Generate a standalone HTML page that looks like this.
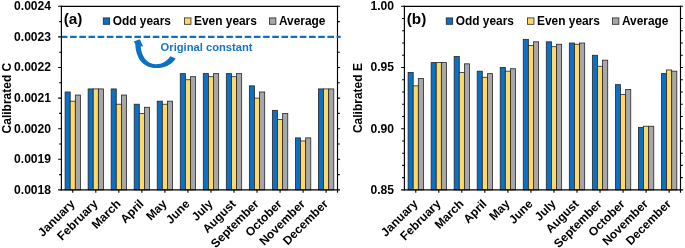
<!DOCTYPE html>
<html><head><meta charset="utf-8"><style>
html,body{margin:0;padding:0;background:#fff;}
svg{display:block;will-change:transform;}
text{font-family:"Liberation Sans",sans-serif;font-weight:bold;font-size:11.7px;fill:#000;}
</style></head><body>
<svg width="685" height="248" viewBox="0 0 685 248">
<rect width="685" height="248" fill="#fff"/>
<rect x="65.09" y="91.98" width="5.12" height="97.92" fill="#0c70c5" stroke="#262626" stroke-width="0.8"/>
<rect x="70.21" y="101.16" width="5.12" height="88.74" fill="#ffd966" stroke="#262626" stroke-width="0.8"/>
<rect x="75.33" y="95.04" width="5.12" height="94.86" fill="#a7a6a8" stroke="#262626" stroke-width="0.8"/>
<rect x="88.12" y="88.92" width="5.12" height="100.98" fill="#0c70c5" stroke="#262626" stroke-width="0.8"/>
<rect x="93.24" y="88.92" width="5.12" height="100.98" fill="#ffd966" stroke="#262626" stroke-width="0.8"/>
<rect x="98.36" y="88.92" width="5.12" height="100.98" fill="#a7a6a8" stroke="#262626" stroke-width="0.8"/>
<rect x="111.16" y="88.92" width="5.12" height="100.98" fill="#0c70c5" stroke="#262626" stroke-width="0.8"/>
<rect x="116.27" y="104.22" width="5.12" height="85.68" fill="#ffd966" stroke="#262626" stroke-width="0.8"/>
<rect x="121.39" y="95.04" width="5.12" height="94.86" fill="#a7a6a8" stroke="#262626" stroke-width="0.8"/>
<rect x="134.19" y="104.22" width="5.12" height="85.68" fill="#0c70c5" stroke="#262626" stroke-width="0.8"/>
<rect x="139.31" y="113.40" width="5.12" height="76.50" fill="#ffd966" stroke="#262626" stroke-width="0.8"/>
<rect x="144.43" y="107.28" width="5.12" height="82.62" fill="#a7a6a8" stroke="#262626" stroke-width="0.8"/>
<rect x="157.22" y="101.16" width="5.12" height="88.74" fill="#0c70c5" stroke="#262626" stroke-width="0.8"/>
<rect x="162.34" y="104.22" width="5.12" height="85.68" fill="#ffd966" stroke="#262626" stroke-width="0.8"/>
<rect x="167.46" y="101.16" width="5.12" height="88.74" fill="#a7a6a8" stroke="#262626" stroke-width="0.8"/>
<rect x="180.26" y="73.62" width="5.12" height="116.28" fill="#0c70c5" stroke="#262626" stroke-width="0.8"/>
<rect x="185.37" y="79.74" width="5.12" height="110.16" fill="#ffd966" stroke="#262626" stroke-width="0.8"/>
<rect x="190.49" y="76.68" width="5.12" height="113.22" fill="#a7a6a8" stroke="#262626" stroke-width="0.8"/>
<rect x="203.29" y="73.62" width="5.12" height="116.28" fill="#0c70c5" stroke="#262626" stroke-width="0.8"/>
<rect x="208.41" y="76.68" width="5.12" height="113.22" fill="#ffd966" stroke="#262626" stroke-width="0.8"/>
<rect x="213.53" y="73.62" width="5.12" height="116.28" fill="#a7a6a8" stroke="#262626" stroke-width="0.8"/>
<rect x="226.32" y="73.62" width="5.12" height="116.28" fill="#0c70c5" stroke="#262626" stroke-width="0.8"/>
<rect x="231.44" y="76.68" width="5.12" height="113.22" fill="#ffd966" stroke="#262626" stroke-width="0.8"/>
<rect x="236.56" y="73.62" width="5.12" height="116.28" fill="#a7a6a8" stroke="#262626" stroke-width="0.8"/>
<rect x="249.36" y="85.86" width="5.12" height="104.04" fill="#0c70c5" stroke="#262626" stroke-width="0.8"/>
<rect x="254.47" y="98.10" width="5.12" height="91.80" fill="#ffd966" stroke="#262626" stroke-width="0.8"/>
<rect x="259.59" y="91.98" width="5.12" height="97.92" fill="#a7a6a8" stroke="#262626" stroke-width="0.8"/>
<rect x="272.39" y="110.34" width="5.12" height="79.56" fill="#0c70c5" stroke="#262626" stroke-width="0.8"/>
<rect x="277.51" y="119.52" width="5.12" height="70.38" fill="#ffd966" stroke="#262626" stroke-width="0.8"/>
<rect x="282.63" y="113.40" width="5.12" height="76.50" fill="#a7a6a8" stroke="#262626" stroke-width="0.8"/>
<rect x="295.42" y="137.88" width="5.12" height="52.02" fill="#0c70c5" stroke="#262626" stroke-width="0.8"/>
<rect x="300.54" y="140.94" width="5.12" height="48.96" fill="#ffd966" stroke="#262626" stroke-width="0.8"/>
<rect x="305.66" y="137.88" width="5.12" height="52.02" fill="#a7a6a8" stroke="#262626" stroke-width="0.8"/>
<rect x="318.46" y="88.92" width="5.12" height="100.98" fill="#0c70c5" stroke="#262626" stroke-width="0.8"/>
<rect x="323.57" y="88.92" width="5.12" height="100.98" fill="#ffd966" stroke="#262626" stroke-width="0.8"/>
<rect x="328.69" y="88.92" width="5.12" height="100.98" fill="#a7a6a8" stroke="#262626" stroke-width="0.8"/>
<path d="M60.85 6.30H338.05M60.85 189.90H338.05" fill="none" stroke="#000" stroke-width="1.15"/>
<path d="M61.40 5.80V190.40M337.50 5.80V190.40" fill="none" stroke="#000" stroke-width="1.15"/>
<path d="M58.10 189.90H61.40M337.50 189.90H340.10" stroke="#000" stroke-width="1.1"/>
<text x="51.05" y="193.85" text-anchor="end" style="font-size:12.1px">0.0018</text>
<path d="M59.10 174.60H61.40M337.50 174.60H339.80" stroke="#000" stroke-width="1.1"/>
<path d="M58.10 159.30H61.40M337.50 159.30H340.10" stroke="#000" stroke-width="1.1"/>
<text x="51.05" y="163.25" text-anchor="end" style="font-size:12.1px">0.0019</text>
<path d="M59.10 144.00H61.40M337.50 144.00H339.80" stroke="#000" stroke-width="1.1"/>
<path d="M58.10 128.70H61.40M337.50 128.70H340.10" stroke="#000" stroke-width="1.1"/>
<text x="51.05" y="132.65" text-anchor="end" style="font-size:12.1px">0.0020</text>
<path d="M59.10 113.40H61.40M337.50 113.40H339.80" stroke="#000" stroke-width="1.1"/>
<path d="M58.10 98.10H61.40M337.50 98.10H340.10" stroke="#000" stroke-width="1.1"/>
<text x="51.05" y="102.05" text-anchor="end" style="font-size:12.1px">0.0021</text>
<path d="M59.10 82.80H61.40M337.50 82.80H339.80" stroke="#000" stroke-width="1.1"/>
<path d="M58.10 67.50H61.40M337.50 67.50H340.10" stroke="#000" stroke-width="1.1"/>
<text x="51.05" y="71.45" text-anchor="end" style="font-size:12.1px">0.0022</text>
<path d="M59.10 52.20H61.40M337.50 52.20H339.80" stroke="#000" stroke-width="1.1"/>
<path d="M58.10 36.90H61.40M337.50 36.90H340.10" stroke="#000" stroke-width="1.1"/>
<text x="51.05" y="40.85" text-anchor="end" style="font-size:12.1px">0.0023</text>
<path d="M59.10 21.60H61.40M337.50 21.60H339.80" stroke="#000" stroke-width="1.1"/>
<path d="M58.10 6.30H61.40M337.50 6.30H340.10" stroke="#000" stroke-width="1.1"/>
<text x="51.05" y="10.25" text-anchor="end" style="font-size:12.1px">0.0024</text>
<path d="M72.77 189.90V192.70" stroke="#000" stroke-width="1.1"/>
<text transform="translate(75.37 204.60) rotate(-45)" text-anchor="end" style="font-size:12px">January</text>
<path d="M95.80 189.90V192.70" stroke="#000" stroke-width="1.1"/>
<text transform="translate(98.40 204.60) rotate(-45)" text-anchor="end" style="font-size:12px">February</text>
<path d="M118.83 189.90V192.70" stroke="#000" stroke-width="1.1"/>
<text transform="translate(121.43 204.60) rotate(-45)" text-anchor="end" style="font-size:12px">March</text>
<path d="M141.87 189.90V192.70" stroke="#000" stroke-width="1.1"/>
<text transform="translate(144.47 204.60) rotate(-45)" text-anchor="end" style="font-size:12px">April</text>
<path d="M164.90 189.90V192.70" stroke="#000" stroke-width="1.1"/>
<text transform="translate(167.50 204.60) rotate(-45)" text-anchor="end" style="font-size:12px">May</text>
<path d="M187.93 189.90V192.70" stroke="#000" stroke-width="1.1"/>
<text transform="translate(190.53 204.60) rotate(-45)" text-anchor="end" style="font-size:12px">June</text>
<path d="M210.97 189.90V192.70" stroke="#000" stroke-width="1.1"/>
<text transform="translate(213.57 204.60) rotate(-45)" text-anchor="end" style="font-size:12px">July</text>
<path d="M234.00 189.90V192.70" stroke="#000" stroke-width="1.1"/>
<text transform="translate(236.60 204.60) rotate(-45)" text-anchor="end" style="font-size:12px">August</text>
<path d="M257.03 189.90V192.70" stroke="#000" stroke-width="1.1"/>
<text transform="translate(259.63 204.60) rotate(-45)" text-anchor="end" style="font-size:12px">September</text>
<path d="M280.07 189.90V192.70" stroke="#000" stroke-width="1.1"/>
<text transform="translate(282.67 204.60) rotate(-45)" text-anchor="end" style="font-size:12px">October</text>
<path d="M303.10 189.90V192.70" stroke="#000" stroke-width="1.1"/>
<text transform="translate(305.70 204.60) rotate(-45)" text-anchor="end" style="font-size:12px">November</text>
<path d="M326.13 189.90V192.70" stroke="#000" stroke-width="1.1"/>
<text transform="translate(328.73 204.60) rotate(-45)" text-anchor="end" style="font-size:12px">December</text>
<path d="M337.50 189.90V192.70" stroke="#000" stroke-width="1.15"/>
<text transform="translate(10.85 98.10) rotate(-90)" text-anchor="middle" style="font-size:12px">Calibrated C</text>
<text x="63.75" y="23.8" style="font-size:15.3px">(a)</text>
<rect x="103.25" y="17.9" width="6.4" height="6.4" fill="#0c70c5" stroke="#262626" stroke-width="0.8"/>
<text x="112.75" y="24.85" style="font-size:11.9px">Odd years</text>
<rect x="184.55" y="17.9" width="6.4" height="6.4" fill="#ffd966" stroke="#262626" stroke-width="0.8"/>
<text x="194.05" y="24.85" style="font-size:11.9px">Even years</text>
<rect x="269.45" y="17.9" width="6.4" height="6.4" fill="#a7a6a8" stroke="#262626" stroke-width="0.8"/>
<text x="278.95" y="24.85" style="font-size:11.9px">Average</text>
<path d="M61.80 36.90H340.65" stroke="#0c70c5" stroke-width="2.2" stroke-dasharray="6.6 2.59" stroke-dashoffset="0.9"/>
<path d="M175.7 58.5 C171.5 65 164 68.3 156 68.1 C146 67.8 136.3 62 135.2 44 L133.7 41.5 L139.8 39.3 L143.1 46.6 L140.7 46.3 C141.3 56.5 147 63.9 155.5 64.2 C162 64.4 167 61 170.3 56.2 Z" fill="#0c70c5"/>
<text x="160.6" y="51" style="font-size:11.2px;fill:#1874c8">Original constant</text>
<rect x="408.09" y="72.40" width="5.12" height="117.50" fill="#0c70c5" stroke="#262626" stroke-width="0.8"/>
<rect x="413.21" y="85.86" width="5.12" height="104.04" fill="#ffd966" stroke="#262626" stroke-width="0.8"/>
<rect x="418.33" y="78.52" width="5.12" height="111.38" fill="#a7a6a8" stroke="#262626" stroke-width="0.8"/>
<rect x="431.12" y="62.60" width="5.12" height="127.30" fill="#0c70c5" stroke="#262626" stroke-width="0.8"/>
<rect x="436.24" y="62.60" width="5.12" height="127.30" fill="#ffd966" stroke="#262626" stroke-width="0.8"/>
<rect x="441.36" y="62.60" width="5.12" height="127.30" fill="#a7a6a8" stroke="#262626" stroke-width="0.8"/>
<rect x="454.16" y="56.48" width="5.12" height="133.42" fill="#0c70c5" stroke="#262626" stroke-width="0.8"/>
<rect x="459.27" y="72.40" width="5.12" height="117.50" fill="#ffd966" stroke="#262626" stroke-width="0.8"/>
<rect x="464.39" y="63.83" width="5.12" height="126.07" fill="#a7a6a8" stroke="#262626" stroke-width="0.8"/>
<rect x="477.19" y="71.17" width="5.12" height="118.73" fill="#0c70c5" stroke="#262626" stroke-width="0.8"/>
<rect x="482.31" y="77.29" width="5.12" height="112.61" fill="#ffd966" stroke="#262626" stroke-width="0.8"/>
<rect x="487.43" y="73.62" width="5.12" height="116.28" fill="#a7a6a8" stroke="#262626" stroke-width="0.8"/>
<rect x="500.22" y="67.50" width="5.12" height="122.40" fill="#0c70c5" stroke="#262626" stroke-width="0.8"/>
<rect x="505.34" y="71.17" width="5.12" height="118.73" fill="#ffd966" stroke="#262626" stroke-width="0.8"/>
<rect x="510.46" y="68.72" width="5.12" height="121.18" fill="#a7a6a8" stroke="#262626" stroke-width="0.8"/>
<rect x="523.26" y="39.35" width="5.12" height="150.55" fill="#0c70c5" stroke="#262626" stroke-width="0.8"/>
<rect x="528.37" y="45.47" width="5.12" height="144.43" fill="#ffd966" stroke="#262626" stroke-width="0.8"/>
<rect x="533.49" y="41.80" width="5.12" height="148.10" fill="#a7a6a8" stroke="#262626" stroke-width="0.8"/>
<rect x="546.29" y="41.80" width="5.12" height="148.10" fill="#0c70c5" stroke="#262626" stroke-width="0.8"/>
<rect x="551.41" y="46.69" width="5.12" height="143.21" fill="#ffd966" stroke="#262626" stroke-width="0.8"/>
<rect x="556.53" y="44.24" width="5.12" height="145.66" fill="#a7a6a8" stroke="#262626" stroke-width="0.8"/>
<rect x="569.32" y="43.02" width="5.12" height="146.88" fill="#0c70c5" stroke="#262626" stroke-width="0.8"/>
<rect x="574.44" y="44.24" width="5.12" height="145.66" fill="#ffd966" stroke="#262626" stroke-width="0.8"/>
<rect x="579.56" y="43.02" width="5.12" height="146.88" fill="#a7a6a8" stroke="#262626" stroke-width="0.8"/>
<rect x="592.36" y="55.26" width="5.12" height="134.64" fill="#0c70c5" stroke="#262626" stroke-width="0.8"/>
<rect x="597.47" y="66.28" width="5.12" height="123.62" fill="#ffd966" stroke="#262626" stroke-width="0.8"/>
<rect x="602.59" y="60.16" width="5.12" height="129.74" fill="#a7a6a8" stroke="#262626" stroke-width="0.8"/>
<rect x="615.39" y="84.64" width="5.12" height="105.26" fill="#0c70c5" stroke="#262626" stroke-width="0.8"/>
<rect x="620.51" y="94.43" width="5.12" height="95.47" fill="#ffd966" stroke="#262626" stroke-width="0.8"/>
<rect x="625.63" y="89.53" width="5.12" height="100.37" fill="#a7a6a8" stroke="#262626" stroke-width="0.8"/>
<rect x="638.42" y="127.48" width="5.12" height="62.42" fill="#0c70c5" stroke="#262626" stroke-width="0.8"/>
<rect x="643.54" y="126.25" width="5.12" height="63.65" fill="#ffd966" stroke="#262626" stroke-width="0.8"/>
<rect x="648.66" y="126.25" width="5.12" height="63.65" fill="#a7a6a8" stroke="#262626" stroke-width="0.8"/>
<rect x="661.46" y="73.62" width="5.12" height="116.28" fill="#0c70c5" stroke="#262626" stroke-width="0.8"/>
<rect x="666.57" y="69.95" width="5.12" height="119.95" fill="#ffd966" stroke="#262626" stroke-width="0.8"/>
<rect x="671.69" y="71.17" width="5.12" height="118.73" fill="#a7a6a8" stroke="#262626" stroke-width="0.8"/>
<path d="M403.85 6.30H681.05M403.85 189.90H681.05" fill="none" stroke="#000" stroke-width="1.15"/>
<path d="M404.40 5.80V190.40M680.50 5.80V190.40" fill="none" stroke="#000" stroke-width="1.15"/>
<path d="M401.10 189.90H404.40M680.50 189.90H683.10" stroke="#000" stroke-width="1.1"/>
<text x="394.05" y="193.85" text-anchor="end" style="font-size:12.1px">0.85</text>
<path d="M402.10 177.66H404.40M680.50 177.66H682.80" stroke="#000" stroke-width="1.1"/>
<path d="M402.10 165.42H404.40M680.50 165.42H682.80" stroke="#000" stroke-width="1.1"/>
<path d="M402.10 153.18H404.40M680.50 153.18H682.80" stroke="#000" stroke-width="1.1"/>
<path d="M402.10 140.94H404.40M680.50 140.94H682.80" stroke="#000" stroke-width="1.1"/>
<path d="M401.10 128.70H404.40M680.50 128.70H683.10" stroke="#000" stroke-width="1.1"/>
<text x="394.05" y="132.65" text-anchor="end" style="font-size:12.1px">0.90</text>
<path d="M402.10 116.46H404.40M680.50 116.46H682.80" stroke="#000" stroke-width="1.1"/>
<path d="M402.10 104.22H404.40M680.50 104.22H682.80" stroke="#000" stroke-width="1.1"/>
<path d="M402.10 91.98H404.40M680.50 91.98H682.80" stroke="#000" stroke-width="1.1"/>
<path d="M402.10 79.74H404.40M680.50 79.74H682.80" stroke="#000" stroke-width="1.1"/>
<path d="M401.10 67.50H404.40M680.50 67.50H683.10" stroke="#000" stroke-width="1.1"/>
<text x="394.05" y="71.45" text-anchor="end" style="font-size:12.1px">0.95</text>
<path d="M402.10 55.26H404.40M680.50 55.26H682.80" stroke="#000" stroke-width="1.1"/>
<path d="M402.10 43.02H404.40M680.50 43.02H682.80" stroke="#000" stroke-width="1.1"/>
<path d="M402.10 30.78H404.40M680.50 30.78H682.80" stroke="#000" stroke-width="1.1"/>
<path d="M402.10 18.54H404.40M680.50 18.54H682.80" stroke="#000" stroke-width="1.1"/>
<path d="M401.10 6.30H404.40M680.50 6.30H683.10" stroke="#000" stroke-width="1.1"/>
<text x="394.05" y="10.25" text-anchor="end" style="font-size:12.1px">1.00</text>
<path d="M415.77 189.90V192.70" stroke="#000" stroke-width="1.1"/>
<text transform="translate(418.37 204.60) rotate(-45)" text-anchor="end" style="font-size:12px">January</text>
<path d="M438.80 189.90V192.70" stroke="#000" stroke-width="1.1"/>
<text transform="translate(441.40 204.60) rotate(-45)" text-anchor="end" style="font-size:12px">February</text>
<path d="M461.83 189.90V192.70" stroke="#000" stroke-width="1.1"/>
<text transform="translate(464.43 204.60) rotate(-45)" text-anchor="end" style="font-size:12px">March</text>
<path d="M484.87 189.90V192.70" stroke="#000" stroke-width="1.1"/>
<text transform="translate(487.47 204.60) rotate(-45)" text-anchor="end" style="font-size:12px">April</text>
<path d="M507.90 189.90V192.70" stroke="#000" stroke-width="1.1"/>
<text transform="translate(510.50 204.60) rotate(-45)" text-anchor="end" style="font-size:12px">May</text>
<path d="M530.93 189.90V192.70" stroke="#000" stroke-width="1.1"/>
<text transform="translate(533.53 204.60) rotate(-45)" text-anchor="end" style="font-size:12px">June</text>
<path d="M553.97 189.90V192.70" stroke="#000" stroke-width="1.1"/>
<text transform="translate(556.57 204.60) rotate(-45)" text-anchor="end" style="font-size:12px">July</text>
<path d="M577.00 189.90V192.70" stroke="#000" stroke-width="1.1"/>
<text transform="translate(579.60 204.60) rotate(-45)" text-anchor="end" style="font-size:12px">August</text>
<path d="M600.03 189.90V192.70" stroke="#000" stroke-width="1.1"/>
<text transform="translate(602.63 204.60) rotate(-45)" text-anchor="end" style="font-size:12px">September</text>
<path d="M623.07 189.90V192.70" stroke="#000" stroke-width="1.1"/>
<text transform="translate(625.67 204.60) rotate(-45)" text-anchor="end" style="font-size:12px">October</text>
<path d="M646.10 189.90V192.70" stroke="#000" stroke-width="1.1"/>
<text transform="translate(648.70 204.60) rotate(-45)" text-anchor="end" style="font-size:12px">November</text>
<path d="M669.13 189.90V192.70" stroke="#000" stroke-width="1.1"/>
<text transform="translate(671.73 204.60) rotate(-45)" text-anchor="end" style="font-size:12px">December</text>
<path d="M680.50 189.90V192.70" stroke="#000" stroke-width="1.15"/>
<text transform="translate(362.05 98.10) rotate(-90)" text-anchor="middle" style="font-size:12px">Calibrated E</text>
<text x="406.75" y="23.8" style="font-size:15.3px">(b)</text>
<rect x="446.25" y="17.9" width="6.4" height="6.4" fill="#0c70c5" stroke="#262626" stroke-width="0.8"/>
<text x="455.75" y="24.85" style="font-size:11.9px">Odd years</text>
<rect x="527.55" y="17.9" width="6.4" height="6.4" fill="#ffd966" stroke="#262626" stroke-width="0.8"/>
<text x="537.05" y="24.85" style="font-size:11.9px">Even years</text>
<rect x="612.45" y="17.9" width="6.4" height="6.4" fill="#a7a6a8" stroke="#262626" stroke-width="0.8"/>
<text x="621.95" y="24.85" style="font-size:11.9px">Average</text>

</svg>
</body></html>
